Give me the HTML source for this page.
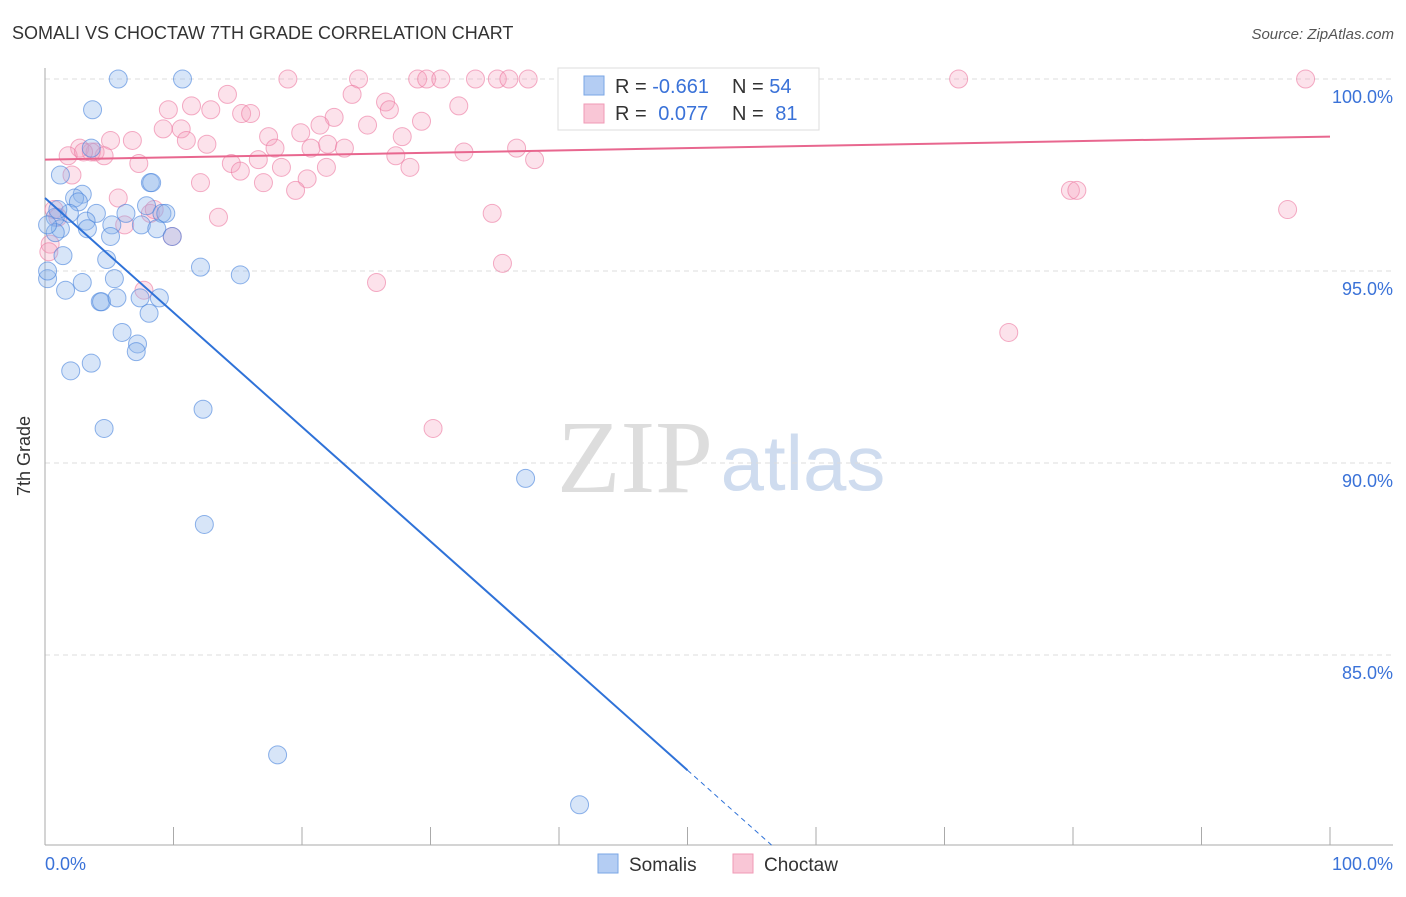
<!DOCTYPE html>
<html><head><meta charset="utf-8"><style>
body{margin:0;background:#fff;font-family:"Liberation Sans",sans-serif}
</style></head><body>
<svg id="chart" width="1406" height="892" xmlns="http://www.w3.org/2000/svg" style="font-family:'Liberation Sans',sans-serif">
<text x="12" y="39" font-size="18" fill="#333">SOMALI VS CHOCTAW 7TH GRADE CORRELATION CHART</text>
<text x="1394" y="39" font-size="15" fill="#555" text-anchor="end" font-style="italic">Source: ZipAtlas.com</text>
<text x="30" y="456" font-size="18" fill="#333" transform="rotate(-90 30 456)" text-anchor="middle">7th Grade</text>
<g><text x="635" y="492" font-size="104" fill="#ddd" font-family="Liberation Serif,serif" text-anchor="middle">ZIP</text><text x="803" y="490" font-size="78" fill="#cfdcef" text-anchor="middle">atlas</text></g>
<g id="grid"></g><g id="axes"></g><g id="pts"></g><g id="trend"></g>
<g>
<rect x="558" y="68" width="261" height="62" fill="#fff" stroke="#ddd"/>
<rect x="584" y="76" width="20" height="19" fill="#b4cdf3" stroke="#7aa6e6"/>
<rect x="584" y="104" width="20" height="19" fill="#f9c6d6" stroke="#f09ab6"/>
<text x="615" y="93" font-size="20" fill="#333">R = <tspan fill="#3a72d8">-0.661</tspan></text>
<text x="732" y="93" font-size="20" fill="#333">N = <tspan fill="#3a72d8">54</tspan></text>
<text x="615" y="120" font-size="20" fill="#333">R = <tspan fill="#3a72d8" dx="6">0.077</tspan></text>
<text x="732" y="120" font-size="20" fill="#333">N = <tspan fill="#3a72d8" dx="6">81</tspan></text>
</g>
<g>
<rect x="598" y="854" width="20" height="19" fill="#b4cdf3" stroke="#7aa6e6"/>
<text x="629" y="871" font-size="19" fill="#333">Somalis</text>
<rect x="733" y="854" width="20" height="19" fill="#f9c6d6" stroke="#f09ab6"/>
<text x="764" y="871" font-size="19" fill="#333">Choctaw</text>
</g>
</svg>
<script>
const yTicks=[100,95,90,85];
const yTickLabels=["100.0%","95.0%","90.0%","85.0%"];
const somaliX=[5.7,10.7,3.7,3.6,8.2,8.3,1.2,2.9,2.3,2.6,7.9,6.3,4.0,1.9,9.1,9.4,0.8,3.2,5.2,7.5,8.7,3.3,1.2,0.8,5.1,9.9,1.4,4.8,12.1,15.2,0.2,5.4,2.9,1.6,4.3,4.4,5.6,7.4,8.9,8.1,6.0,7.2,7.1,3.6,2.0,12.3,4.6,37.4,12.4,18.1,41.6,0.2,0.2,1.0];
const somaliY=[100,100,99.2,98.2,97.3,97.3,97.5,97.0,96.9,96.8,96.7,96.5,96.5,96.5,96.5,96.5,96.4,96.3,96.2,96.2,96.1,96.1,96.1,96.0,95.9,95.9,95.4,95.3,95.1,94.9,94.8,94.8,94.7,94.5,94.2,94.2,94.3,94.3,94.3,93.9,93.4,93.1,92.9,92.6,92.4,91.4,90.9,89.6,88.4,82.4,81.1,96.2,95.0,96.6];
const choctawX=[18.9,24.4,29.0,29.7,30.8,33.5,35.2,36.1,37.6,50.9,71.1,98.1,14.2,23.9,11.4,9.6,12.9,26.5,26.8,32.2,15.3,16.0,22.5,21.4,25.1,29.3,9.2,10.6,19.9,17.4,27.8,5.1,6.8,11.0,12.6,17.9,20.7,22.0,23.3,32.6,36.7,2.7,3.9,4.6,1.8,3.6,27.3,38.1,16.6,7.3,14.5,18.4,21.9,28.4,15.2,2.1,20.4,12.1,17.0,19.5,79.8,80.3,5.7,0.7,8.2,34.8,96.7,13.5,6.2,1.0,9.9,0.4,35.6,25.8,7.7,75.0,30.2,51.2,3.0,8.5,0.3];
const choctawY=[100,100,100,100,100,100,100,100,100,100,100,100,99.6,99.6,99.3,99.2,99.2,99.4,99.2,99.3,99.1,99.1,99.0,98.8,98.8,98.9,98.7,98.7,98.6,98.5,98.5,98.4,98.4,98.4,98.3,98.2,98.2,98.3,98.2,98.1,98.2,98.2,98.1,98.0,98.0,98.1,98.0,97.9,97.9,97.8,97.8,97.7,97.7,97.7,97.6,97.5,97.4,97.3,97.3,97.1,97.1,97.1,96.9,96.6,96.5,96.5,96.6,96.4,96.2,96.4,95.9,95.7,95.2,94.7,94.5,93.4,90.9,100,98.1,96.6,95.5];
const somaliTrend=[96.9,-0.298];
const choctawTrend=[97.9,0.006];
const NS="http://www.w3.org/2000/svg";
const X=v=>45+v*12.85, Y=v=>79+(100-v)*38.4;
function mk(t,a,p){const e=document.createElementNS(NS,t);for(const k in a)e.setAttribute(k,a[k]);document.getElementById(p).appendChild(e);return e;}
yTicks.forEach((t,i)=>{
 const l=mk('line',{x1:45,x2:1393,y1:Y(t),y2:Y(t),stroke:'#ddd','stroke-dasharray':'5,4'},'grid');
 
 
 const tx=mk('text',{x:1393,y:Y(t)+24,'font-size':18,fill:'#3a72d8','text-anchor':'end'},'grid');
 tx.textContent=yTickLabels[i];
 
 
});
let ax=mk('line',{x1:45,x2:45,y1:68,y2:845,stroke:'#aaa'},'axes');


ax=mk('line',{x1:45,x2:1393,y1:845,y2:845,stroke:'#aaa'},'axes');


for(let i=0;i<=10;i++){const t=mk('line',{x1:X(i*10),x2:X(i*10),y1:827,y2:845,stroke:'#aaa'},'axes');
 
 }
let xl=mk('text',{x:45,y:870,'font-size':18,fill:'#3a72d8'},'axes');xl.textContent='0.0%';


xl=mk('text',{x:1393,y:870,'font-size':18,fill:'#3a72d8','text-anchor':'end'},'axes');xl.textContent='100.0%';


choctawX.forEach((x,i)=>{const c=mk('circle',{cx:X(x),cy:Y(choctawY[i]),r:9,fill:'rgba(246,160,188,0.3)',stroke:'rgba(236,120,160,0.6)','stroke-width':1},'pts');
 
 });
somaliX.forEach((x,i)=>{const c=mk('circle',{cx:X(x),cy:Y(somaliY[i]),r:9,fill:'rgba(140,180,235,0.35)',stroke:'rgba(70,130,220,0.6)','stroke-width':1},'pts');
 
 });
const sf=x=>somaliTrend[0]+somaliTrend[1]*x, cf=x=>choctawTrend[0]+choctawTrend[1]*x;
let tl=mk('line',{x1:X(0),y1:Y(sf(0)),x2:X(50),y2:Y(sf(50)),stroke:'#2f72d8','stroke-width':2},'trend');


const xe=(80.05-somaliTrend[0])/somaliTrend[1];
tl=mk('line',{x1:X(50),y1:Y(sf(50)),x2:X(xe),y2:Y(sf(xe)),stroke:'#2f72d8','stroke-width':1,'stroke-dasharray':'5,4'},'trend');


tl=mk('line',{x1:X(0),y1:Y(cf(0)),x2:X(100),y2:Y(cf(100)),stroke:'#e8678f','stroke-width':2},'trend');


</script>
</body></html>
